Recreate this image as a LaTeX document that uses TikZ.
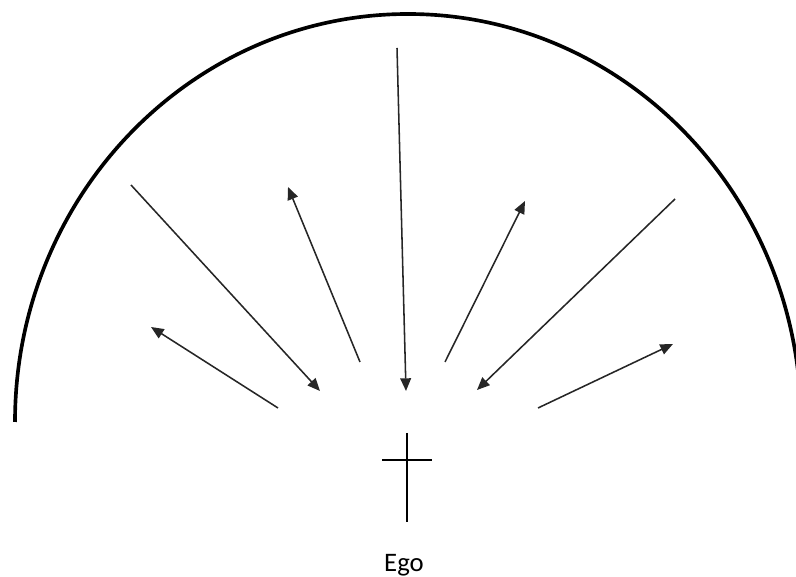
\documentclass[tikz,border=0pt]{standalone}
\usepackage{fontspec}
\setmainfont{Carlito}
\usetikzlibrary{arrows.meta}

\begin{document}
\begin{tikzpicture}[
    x=0.025cm, y=0.025cm,
    horizon/.style={draw=black, line width=2.6pt},
    ray/.style={-{Triangle[length=9pt, width=7.6pt]}, line width=1.1pt, draw=black!85},
    egoline/.style={draw=black, line width=1.1pt},
    lbl/.style={font=\fontsize{19}{21}\selectfont, inner sep=0pt}
]
\useasboundingbox (0,0) rectangle (796,577);

%% Horizon (half ellipse)
\draw[horizon] (15,155) arc[start angle=180, end angle=0, x radius=393, y radius=408];

%% Ray end points
\coordinate (r1a) at (278,169);  \coordinate (r1b) at (151,250);
\coordinate (r2a) at (131,392);  \coordinate (r2b) at (320,186);
\coordinate (r3a) at (360,215);  \coordinate (r3b) at (288,390);
\coordinate (r4a) at (397,529);  \coordinate (r4b) at (406,186);
\coordinate (r5a) at (445,215);  \coordinate (r5b) at (525,376);
\coordinate (r6a) at (675,378);  \coordinate (r6b) at (477,187);
\coordinate (r7a) at (538,169);  \coordinate (r7b) at (673,233);

%% ── Rays ─────────────────────────────────────────────────────────
\foreach \i in {1,...,7}
    \draw[ray] (r\i a) -- (r\i b);

%% ── Ego cross ────────────────────────────────────────────────────
\coordinate (top)   at (407,144);
\coordinate (foot)  at (407,55);
\coordinate (left)  at (382,117);
\coordinate (right) at (432,117);
\draw[egoline] (top) -- (foot);
\draw[egoline] (left) -- (right);

\node[lbl, anchor=base] (ego) at (404,5.3) {Ego};

\end{tikzpicture}
\end{document}
